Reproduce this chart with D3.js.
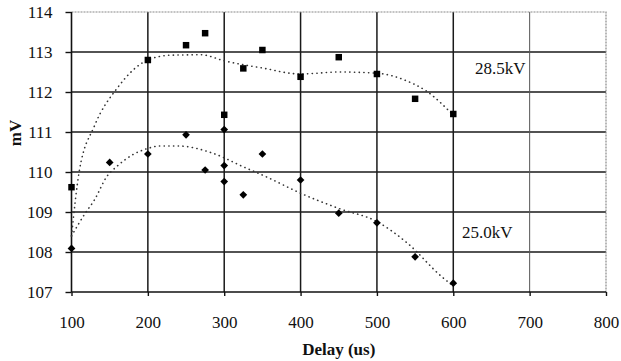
<!DOCTYPE html>
<html>
<head>
<meta charset="utf-8">
<script src="https://cdn.jsdelivr.net/npm/d3@7"></script>
<style>
  body { margin: 0; background: #fff; }
  text { font-family: "Liberation Serif", "Times New Roman", serif; fill: #111; }
</style>
</head>
<body>
<svg id="chart" width="621" height="361"></svg>
<script>
/* data */
let delays285 = [100, 200, 250, 275, 300, 325, 350, 400, 450, 500, 550, 600];
let mv285     = [109.62, 112.8, 113.17, 113.47, 111.43, 112.59, 113.05, 112.38, 112.87, 112.45, 111.83, 111.45];

let delays250 = [100, 150, 200, 250, 275, 300, 300, 300, 325, 350, 400, 450, 500, 550, 600];
let mv250     = [108.09, 110.24, 110.45, 110.93, 110.05, 111.06, 110.16, 109.76, 109.43, 110.45, 109.8, 108.97, 108.73, 107.88, 107.22];

// dotted trend lines
let trend285X = [100, 110, 130, 160, 200, 230, 270, 300, 350, 400, 450, 500, 540, 565, 600];
let trend285Y = [108.4, 110.0, 111.15, 112.1, 112.8, 112.92, 112.93, 112.78, 112.6, 112.45, 112.5, 112.47, 112.27, 112.02, 111.42];
let trend250X = [100, 118, 130, 146, 160, 180, 200, 215, 240, 285, 325, 355, 400, 450, 500, 540, 585, 600];
let trend250Y = [108.4, 108.97, 109.3, 109.88, 110.15, 110.43, 110.59, 110.65, 110.65, 110.47, 110.13, 109.88, 109.47, 109.09, 108.76, 108.22, 107.38, 107.15];

let xTicks = [100, 200, 300, 400, 500, 600, 700, 800];
let yTicks = [107, 108, 109, 110, 111, 112, 113, 114];

let labels = [
  {text: "28.5kV", x: 475, y: 112.45},
  {text: "25.0kV", x: 462, y: 108.35}
];

var svg = d3.select("#chart");
var x = d3.scaleLinear().domain([100, 800]).range([71.5, 606]);
var y = d3.scaleLinear().domain([107, 114]).range([292, 12]);

/*GRID*/
svg.append("g").selectAll("line")
    .data(yTicks.filter(function(d) { return d > 107 && d < 114; }))
  .enter().append("line")
    .attr("x1", x(100)).attr("x2", x(800))
    .attr("y1", function(d) { return y(d); }).attr("y2", function(d) { return y(d); })
    .attr("stroke", "#1a1a1a").attr("stroke-width", 1.5);

svg.append("g").selectAll("line")
    .data(xTicks.filter(function(d) { return d > 100 && d < 800; }))
  .enter().append("line")
    .attr("y1", y(107)).attr("y2", y(114))
    .attr("x1", function(d) { return x(d); }).attr("x2", function(d) { return x(d); })
    .attr("stroke", function(d) { return d == 700 ? "#555" : "#1a1a1a"; })
    .attr("stroke-width", function(d) { return d == 700 ? 1 : 1.5; });

// top and right border, grey and dotted like the scan
svg.append("path")
    .attr("d", "M" + x(100) + "," + y(114) + "H" + x(800) + "V" + y(107))
    .attr("fill", "none").attr("stroke", "#888")
    .attr("stroke-width", 1.2).attr("stroke-dasharray", "2,1");

/*AXES*/
var xAxis = svg.append("g")
    .attr("transform", "translate(0," + y(107) + ")")
    .call(d3.axisBottom(x).tickValues(xTicks).tickFormat(d3.format("d")).tickSize(4).tickPadding(20));
var yAxis = svg.append("g")
    .attr("transform", "translate(" + x(100) + ",0)")
    .call(d3.axisLeft(y).tickValues(yTicks).tickFormat(d3.format("d")).tickSize(6).tickPadding(13));
[xAxis, yAxis].forEach(function(a) {
    a.attr("font-family", "Liberation Serif").attr("font-size", 17);
    a.select(".domain").attr("stroke", "#111").attr("stroke-width", 1.6);
    a.selectAll(".tick line").attr("stroke", "#111").attr("stroke-width", 1.4);
    a.selectAll("text").attr("fill", "#111");
});
yAxis.select(".domain").attr("d", "M0," + y(114) + "V" + y(107));
xAxis.select(".domain").attr("d", "M" + x(100) + ",0H" + x(800));

svg.append("text")
    .attr("x", x(450)).attr("y", 355)
    .attr("text-anchor", "middle")
    .attr("font-size", 17).attr("font-weight", "bold")
    .text("Delay (us)");
svg.append("text")
    .attr("transform", "translate(21,133) rotate(-90)")
    .attr("text-anchor", "middle")
    .attr("font-size", 17).attr("font-weight", "bold")
    .text("mV");

/*TRENDS*/
var line = d3.line()
    .x(function(d) { return x(d[0]); })
    .y(function(d) { return y(d[1]); })
    .curve(d3.curveMonotoneX);
[[trend285X, trend285Y], [trend250X, trend250Y]].forEach(function(t) {
    svg.append("path")
        .datum(d3.zip(t[0], t[1]))
        .attr("d", line)
        .attr("fill", "none")
        .attr("stroke", "#333")
        .attr("stroke-width", 1.6)
        .attr("stroke-linecap", "round")
        .attr("stroke-dasharray", "0.2,4.5");
});

/*POINTS*/
svg.append("g").selectAll("path")
    .data(d3.zip(delays285, mv285))
  .enter().append("path")
    .attr("d", d3.symbol().type(d3.symbolSquare).size(42))
    .attr("transform", function(d) { return "translate(" + x(d[0]) + "," + y(d[1]) + ")"; })
    .attr("fill", "#000");

svg.append("g").selectAll("path")
    .data(d3.zip(delays250, mv250))
  .enter().append("path")
    .attr("d", d3.symbol().type(d3.symbolDiamond2).size(38))
    .attr("transform", function(d) { return "translate(" + x(d[0]) + "," + y(d[1]) + ")"; })
    .attr("fill", "#000");

/*LABELS*/
svg.append("g").selectAll("text")
    .data(labels)
  .enter().append("text")
    .attr("x", function(d) { return d.x; })
    .attr("y", function(d) { return y(d.y); })
    .attr("font-size", 17)
    .text(function(d) { return d.text; });
</script>
</body>
</html>
